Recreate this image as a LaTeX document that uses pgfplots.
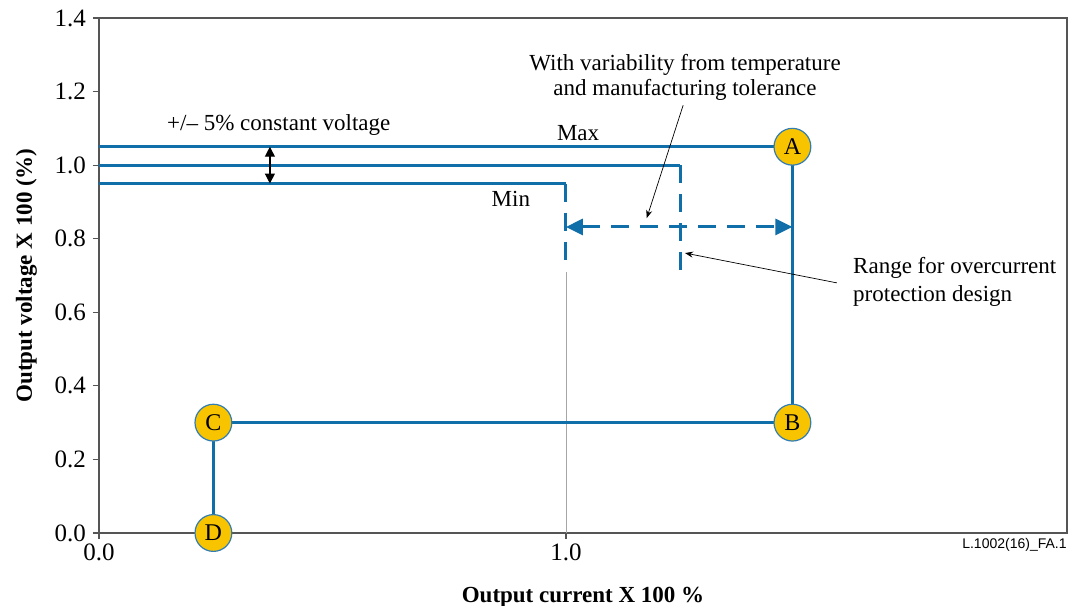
\documentclass[border=0pt]{standalone}
\usepackage{pgfplots}
\pgfplotsset{compat=1.18}
\usepackage{fontspec}
\setmainfont{Liberation Serif}
\newfontfamily\arial{Liberation Sans}
\usetikzlibrary{arrows.meta}

\definecolor{lineblue}{RGB}{16,110,168}
\definecolor{dotyellow}{RGB}{248,196,0}
\definecolor{dotedge}{RGB}{50,125,180}
\definecolor{axisgray}{RGB}{85,85,85}

\begin{document}
\begin{tikzpicture}
\begin{axis}[
    scale only axis,
    width=484pt, height=257.5pt,
    xmin=0, xmax=2.073,
    ymin=0, ymax=1.4,
    xtick={0,1}, xticklabels={0.0,1.0},
    ytick={0,0.2,0.4,0.6,0.8,1.0,1.2,1.4},
    yticklabels={0.0,0.2,0.4,0.6,0.8,1.0,1.2,1.4},
    /pgf/number format/assume math mode=true,
    tick label style={font=\fontsize{12.5}{14}\selectfont},
    xtick pos=bottom, ytick pos=left,
    tick align=outside, major tick length=3pt,
    tick style={color=axisgray, line width=0.6pt},
    axis line style={color=axisgray, line width=0.7pt},
    xticklabel style={yshift=1pt},
    xlabel={\bfseries Output current X 100 \%},
    ylabel={\bfseries Output voltage X 100 (\%)},
    label style={font=\fontsize{11.5}{13}\selectfont},
    xlabel style={yshift=-6pt},
    ylabel style={yshift=2pt},
    clip=false,
]

% thin guide at nominal current
\addplot[color=black!35, line width=0.4pt] coordinates {(1.0,0.709) (1.0,0)};

% nominal and min curves
\addplot[color=lineblue, line width=1.5pt] coordinates {(0,1.0) (1.245,1.0)};
\addplot[color=lineblue, line width=1.5pt, dash pattern=on 9pt off 5.5pt] coordinates {(1.245,1.0) (1.245,0.715)};
\addplot[color=lineblue, line width=1.5pt] coordinates {(0,0.95) (1.0,0.95)};
\addplot[color=lineblue, line width=1.5pt, dash pattern=on 9pt off 5.5pt] coordinates {(1.0,0.95) (1.0,0.743)};

% max curve A-B-C-D
\addplot[color=lineblue, line width=1.5pt] coordinates {(0,1.05) (1.485,1.05) (1.485,0.3) (0.245,0.3) (0.245,0)};

% range arrow
\addplot[color=lineblue, line width=1.5pt, dash pattern=on 9pt off 5.5pt,
    {Triangle[length=8.5pt,width=8pt]}-{Triangle[length=8.5pt,width=8pt]}]
    coordinates {(1.0,0.832) (1.485,0.832)};

% +/- 5% arrow
\addplot[color=black, line width=0.6pt,
    {Triangle[length=5pt,width=5pt]}-{Triangle[length=5pt,width=5pt]}]
    coordinates {(0.366,1.05) (0.366,0.95)};

% points A-D
\addplot[only marks, mark=*, mark size=9.2pt,
    mark options={fill=dotyellow, draw=dotedge, line width=0.6pt},
    point meta=explicit symbolic,
    nodes near coords, nodes near coords align={center},
    every node near coord/.append style={font=\fontsize{12}{14}\selectfont, anchor=center}]
    coordinates {(1.485,1.05)[A] (1.485,0.3)[B] (0.245,0.3)[C] (0.245,0)[D]};

% annotations
\node[anchor=west, font=\fontsize{11.5}{13}\selectfont] at (axis cs:0.131,1.109) {+/– 5\% constant voltage};
\node[font=\fontsize{11.5}{13}\selectfont] at (axis cs:1.026,1.087) {Max};
\node[font=\fontsize{11.5}{13}\selectfont] at (axis cs:0.882,0.908) {Min};
\node[align=center, font=\fontsize{11.5}{12.5}\selectfont] at (axis cs:1.255,1.239)
    {With variability from temperature\\and manufacturing tolerance};
\node[anchor=west, align=left, font=\fontsize{11.5}{14}\selectfont] at (axis cs:1.600,0.682)
    {Range for overcurrent\\protection design};
\draw[-{Stealth[length=4pt,width=3pt]}, line width=0.35pt] (axis cs:1.251,1.163) -- (axis cs:1.173,0.856);
\draw[-{Stealth[length=4pt,width=3pt]}, line width=0.35pt] (axis cs:1.580,0.680) -- (axis cs:1.255,0.761);

\node[anchor=north east, font=\arial\fontsize{7}{8}\selectfont, inner sep=0pt] at (rel axis cs:1,0) [yshift=-2.5pt] {L.1002(16)\_FA.1};
\end{axis}
\pgfresetboundingbox
\path[use as bounding box] (-49.5pt,-36pt) rectangle (485.5pt,266.5pt);
\end{tikzpicture}
\end{document}
